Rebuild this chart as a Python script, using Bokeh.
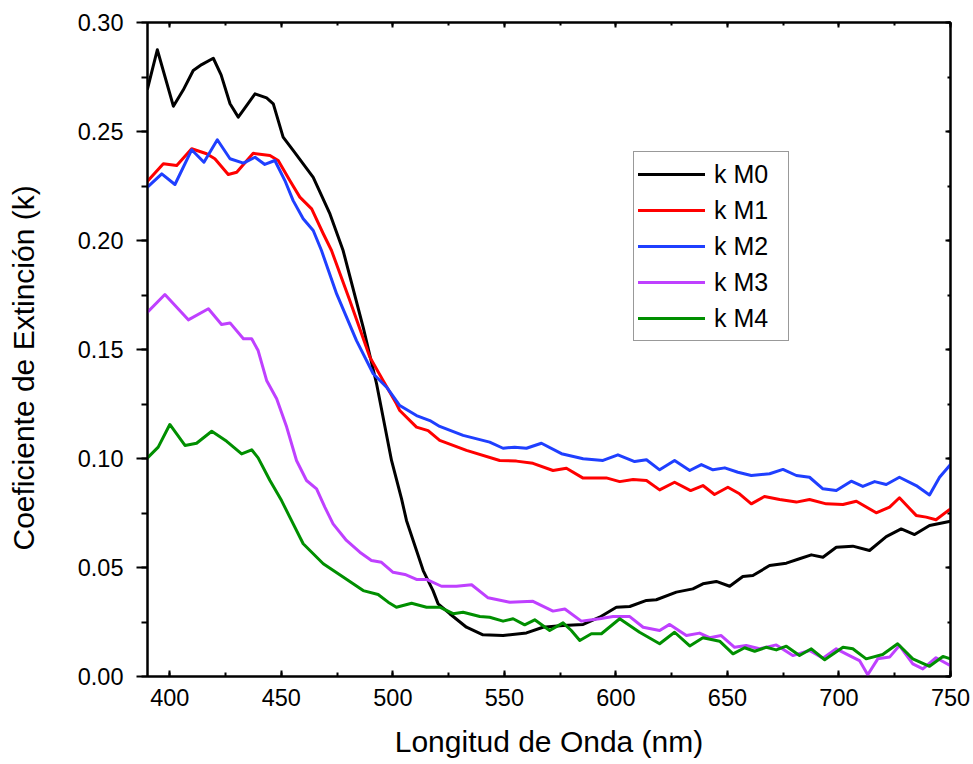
from bokeh.plotting import figure
from bokeh.models import (LinearAxis, SingleIntervalTicker, NumeralTickFormatter,
                          CustomJSTickFormatter, Legend, LegendItem, Range1d, Title)
from bokeh.embed import file_html
from bokeh.resources import INLINE

# Extinction coefficient k versus wavelength for samples M0..M4
wl_m0 = [390, 394.4, 401.6, 406, 410.5, 414.3, 419.5, 423, 427, 430.7, 434.5, 438.2, 443.4, 446.4,
         450.8, 455.3, 464.3, 471.8, 477.7, 486.7, 492.7, 499.4, 503.9, 506.1, 510.6, 513.6, 518,
         520.3, 525.5, 533, 540.4, 549.4, 559.9, 567.3, 576.3, 585.3, 592.7, 600.2, 606.2, 613.7,
         618.1, 627.1, 634.5, 639, 645, 651, 656.9, 661.4, 668.9, 676.4, 682.3, 687.6, 692.8,
         698.8, 706.2, 713.7, 721.2, 727.9, 733.9, 740.6, 750]
k_m0 = [0.2696, 0.2875, 0.2616, 0.2690, 0.2780, 0.2807, 0.2836, 0.2760, 0.2627, 0.2566, 0.2620,
        0.2673, 0.2654, 0.2627, 0.2474, 0.2413, 0.2290, 0.2122, 0.1954, 0.1602, 0.1343, 0.0991,
        0.0815, 0.0716, 0.0578, 0.0486, 0.0394, 0.0333, 0.0288, 0.0226, 0.0191, 0.0188, 0.0200,
        0.0226, 0.0234, 0.0239, 0.0272, 0.0318, 0.0321, 0.0349, 0.0352, 0.0387, 0.0402, 0.0425,
        0.0436, 0.0414, 0.0459, 0.0463, 0.0509, 0.0520, 0.0540, 0.0558, 0.0547, 0.0593, 0.0598,
        0.0578, 0.0642, 0.0677, 0.0651, 0.0693, 0.0712]

wl_m1 = [390, 397.1, 403.1, 409.8, 416.5, 420.2, 426.2, 430, 437.4, 444.9, 448.6, 453.8, 458.3,
         463.6, 468.8, 472.5, 480.7, 489.7, 495.6, 501.6, 503.1, 510.6, 515.8, 521, 533, 547.9,
         555.4, 562.8, 571.8, 577.8, 585.3, 595.7, 601.7, 607.7, 613.7, 619.6, 626.3, 633.5, 639,
         644.2, 650.2, 655.4, 660.7, 666.6, 673.4, 680.9, 686.8, 694.3, 701.8, 707.8, 716.7,
         722.7, 727.1, 734.6, 739.1, 743.5, 750]
k_m1 = [0.2272, 0.2352, 0.2344, 0.2421, 0.2398, 0.2375, 0.2303, 0.2313, 0.2400, 0.2390, 0.2367,
        0.2275, 0.2199, 0.2145, 0.2031, 0.1954, 0.1725, 0.1465, 0.1358, 0.1251, 0.1220, 0.1144,
        0.1128, 0.1083, 0.1037, 0.0991, 0.0988, 0.0978, 0.0945, 0.0955, 0.0910, 0.0911, 0.0894,
        0.0904, 0.0899, 0.0856, 0.0891, 0.0853, 0.0876, 0.0835, 0.0868, 0.0838, 0.0792, 0.0826,
        0.0812, 0.0800, 0.0812, 0.0792, 0.0789, 0.0804, 0.0751, 0.0777, 0.0820, 0.0739, 0.0731,
        0.0719, 0.0769]

wl_m2 = [390, 396.4, 402.3, 409.8, 415.3, 421.3, 427, 433, 438.2, 442.6, 447.1, 451.6, 455.3,
         459.8, 464.3, 468, 474.8, 483.7, 491.2, 497.2, 503.1, 510.6, 516.6, 521, 531.5, 543.4,
         549.4, 554.6, 559.9, 566.6, 575.6, 585.3, 594.2, 600.9, 608.4, 613.7, 619.6, 626.3,
         633.1, 638.3, 643.5, 648.8, 654.7, 660.7, 668.9, 674.9, 680.9, 686.8, 692.8, 698.8,
         705.5, 710.7, 716, 721.2, 727.1, 734.6, 740.6, 745.1, 750]
k_m2 = [0.2245, 0.2306, 0.2257, 0.2416, 0.2359, 0.2462, 0.2375, 0.2355, 0.2382, 0.2349, 0.2367,
        0.2275, 0.2183, 0.2100, 0.2046, 0.1954, 0.1755, 0.1541, 0.1389, 0.1327, 0.1243, 0.1197,
        0.1174, 0.1147, 0.1106, 0.1075, 0.1047, 0.1052, 0.1047, 0.1070, 0.1022, 0.0999, 0.0991,
        0.1017, 0.0986, 0.0994, 0.0948, 0.0991, 0.0945, 0.0972, 0.0948, 0.0957, 0.0937, 0.0922,
        0.0930, 0.0950, 0.0922, 0.0914, 0.0861, 0.0853, 0.0896, 0.0872, 0.0894, 0.0881, 0.0914,
        0.0876, 0.0833, 0.0914, 0.0972]

wl_m3 = [390, 397.8, 408.3, 417.3, 423.2, 427, 433, 436.7, 439.6, 443.4, 447.9, 452.4, 456.8,
         461.3, 465.8, 469.5, 473.2, 479.2, 485.2, 490.4, 494.9, 500.1, 505.4, 510.6, 515.1,
         521.8, 528.5, 535.3, 542.7, 552.4, 562.8, 571.8, 577.1, 584.5, 592.7, 598.7, 606.2,
         612.2, 619.6, 624.1, 631.6, 637.5, 642, 647.2, 653.2, 658.4, 664.4, 671.9, 679.3,
         686.8, 692.8, 698.8, 704.7, 709.2, 712.9, 717.4, 722.7, 727.1, 733.1, 737.6, 743.5, 750]
k_m3 = [0.1671, 0.1752, 0.1636, 0.1687, 0.1615, 0.1622, 0.1549, 0.1549, 0.1495, 0.1358, 0.1274,
        0.1144, 0.0991, 0.0899, 0.0861, 0.0777, 0.0700, 0.0624, 0.0570, 0.0532, 0.0524, 0.0478,
        0.0468, 0.0445, 0.0445, 0.0414, 0.0414, 0.0421, 0.0361, 0.0341, 0.0345, 0.0300, 0.0310,
        0.0254, 0.0265, 0.0275, 0.0275, 0.0226, 0.0211, 0.0239, 0.0188, 0.0199, 0.0178, 0.0188,
        0.0134, 0.0142, 0.0127, 0.0145, 0.0096, 0.0119, 0.0084, 0.0127, 0.0096, 0.0073, 0.0008,
        0.0081, 0.0089, 0.0142, 0.0058, 0.0035, 0.0086, 0.0050]

wl_m4 = [390, 394.8, 400, 406.8, 412, 418.8, 425.5, 432.2, 436.7, 439.6, 444.9, 450.1, 453.8,
         459.8, 468.8, 477.7, 486.7, 493.4, 497.9, 501.6, 508.4, 515.1, 521, 527, 531.5, 539,
         543.4, 549.4, 553.9, 559.1, 563.6, 570.3, 576.3, 580, 583.8, 589, 593.5, 601.7, 610.6,
         619.6, 626.3, 633.1, 639, 646.5, 652.5, 657.7, 662.2, 667.4, 671.9, 676.4, 682.3, 687.6,
         693.6, 701.8, 706.2, 712.2, 719.6, 726.3, 733.1, 740.6, 746.6, 750]
k_m4 = [0.1003, 0.1052, 0.1156, 0.1060, 0.1070, 0.1125, 0.1079, 0.1021, 0.1040, 0.1003, 0.0899,
        0.0807, 0.0731, 0.0609, 0.0517, 0.0456, 0.0394, 0.0376, 0.0341, 0.0318, 0.0336, 0.0318,
        0.0318, 0.0288, 0.0295, 0.0275, 0.0272, 0.0254, 0.0265, 0.0237, 0.0260, 0.0211, 0.0246,
        0.0211, 0.0165, 0.0196, 0.0196, 0.0265, 0.0203, 0.0150, 0.0203, 0.0140, 0.0178, 0.0162,
        0.0104, 0.0132, 0.0116, 0.0134, 0.0122, 0.0139, 0.0096, 0.0127, 0.0077, 0.0134, 0.0127,
        0.0081, 0.0101, 0.0150, 0.0081, 0.0047, 0.0092, 0.0081]

series_names = ["k M0", "k M1", "k M2", "k M3", "k M4"]
series_colors = ["#000000", "#ff0000", "#1f3fff", "#bf40ff", "#008f00"]

FONT = "Liberation Sans"

p = figure(width=973, height=764, output_backend="svg", toolbar_location=None,
           x_range=Range1d(390, 750), y_range=Range1d(0, 0.300001),
           min_border_left=147, min_border_right=23, min_border_top=22, min_border_bottom=88,
           x_axis_label="Longitud de Onda (nm)")
p.background_fill_color = "white"
p.border_fill_color = "white"
p.grid.visible = False
p.outline_line_color = "black"
p.outline_line_width = 2

xa = p.xaxis[0]
xa.ticker = SingleIntervalTicker(interval=50, num_minor_ticks=2)
ya = p.yaxis[0]
ya.ticker = SingleIntervalTicker(interval=0.05, num_minor_ticks=2)
ya.formatter = NumeralTickFormatter(format="0.00")

for ax in (xa, ya):
    ax.axis_line_width = 2
    ax.major_tick_line_width = 2
    ax.minor_tick_line_width = 2
    ax.major_label_text_font = FONT
    ax.major_label_text_font_size = "23.5px"
    ax.major_label_text_color = "black"
    ax.axis_label_text_font = FONT
    ax.axis_label_text_font_size = "30px"
    ax.axis_label_text_font_style = "normal"
    ax.axis_label_text_color = "black"

xa.major_tick_in = 6
xa.major_tick_out = 0
xa.minor_tick_in = 4
xa.minor_tick_out = 0
xa.major_label_standoff = 12
xa.axis_label_standoff = 16

ya.major_tick_in = 0
ya.major_tick_out = 11
ya.minor_tick_in = 0
ya.minor_tick_out = 6
ya.major_label_standoff = 13
# blank gap between the tick labels and the vertical title
ya.axis_label = " "
ya.axis_label_text_font_size = "2px"
ya.axis_label_standoff = 23

# vertical axis title, anchored from the frame's lower edge
ytitle = Title(text="Coeficiente de Extinción (k)", align="left", offset=126,
               vertical_align="top", standoff=10, text_font=FONT, text_font_size="30px",
               text_font_style="normal", text_color="black")
p.add_layout(ytitle, "left")

# mirrored frame axes on top and right with inward ticks, no labels
blank = CustomJSTickFormatter(code="return ''")
top = LinearAxis(ticker=SingleIntervalTicker(interval=50, num_minor_ticks=2), formatter=blank)
right = LinearAxis(ticker=SingleIntervalTicker(interval=0.05, num_minor_ticks=2), formatter=blank)
for ax in (top, right):
    ax.axis_line_width = 2
    ax.major_tick_line_width = 2
    ax.minor_tick_line_width = 2
    ax.major_tick_in = 5
    ax.major_tick_out = 0
    ax.minor_tick_in = 3
    ax.minor_tick_out = 0
    ax.major_label_standoff = 0
    ax.major_label_text_font_size = "1px"
p.add_layout(top, "above")
p.add_layout(right, "right")

xs = [wl_m0, wl_m1, wl_m2, wl_m3, wl_m4]
ys = [k_m0, k_m1, k_m2, k_m3, k_m4]
items = []
for x, y, name, color in zip(xs, ys, series_names, series_colors):
    r = p.line(x, y, line_color=color, line_width=3, line_join="round", line_cap="round")
    items.append(LegendItem(label=name, renderers=[r]))

legend = Legend(items=items, location=(486, 335))
legend.label_text_font = FONT
legend.label_text_font_size = "25px"
legend.label_text_color = "black"
legend.glyph_width = 67
legend.glyph_height = 36
legend.label_height = 36
legend.label_width = 70
legend.label_standoff = 9
legend.spacing = 0
legend.padding = 4
legend.margin = 0
legend.border_line_color = "#333333"
legend.border_line_width = 1.5
legend.background_fill_color = "white"
legend.background_fill_alpha = 1
p.add_layout(legend, "center")

open("out.html", "w").write(file_html(p, INLINE))
